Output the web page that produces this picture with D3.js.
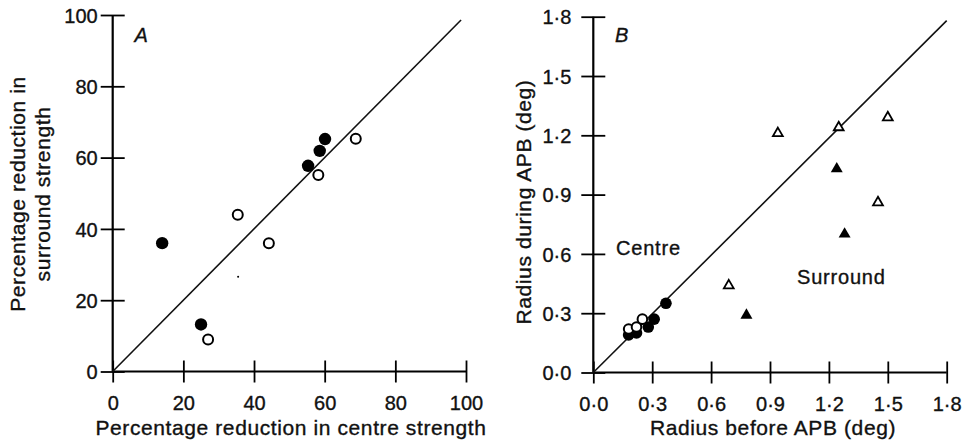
<!DOCTYPE html>
<html>
<head>
<meta charset="utf-8">
<script src="https://cdn.jsdelivr.net/npm/d3@7/dist/d3.min.js"></script>
<style>
  body { margin: 0; background: #fff; }
  svg { display: block; font-family: "Liberation Sans", Arial, Helvetica, sans-serif; }
</style>
</head>
<body>
<svg id="chart" width="969" height="443"></svg>
<script>
// ---------- DATA ----------
// Panel A: percentage reduction (centre, surround)
const aFilledX = [14, 25, 55.3, 58.6, 60.1];
const aFilledY = [36, 13.2, 57.7, 61.9, 65.2];
const aOpenX = [27, 35.4, 44.2, 58.2, 68.8];
const aOpenY = [9, 44, 36, 55.1, 65.3];
const aStrayX = [35.5];
const aStrayY = [26.6];
const aTicks = [0, 20, 40, 60, 80, 100];

// Panel B: radius before / during APB (deg)
const bCentreFilledX = [0.18, 0.22, 0.28, 0.31, 0.37];
const bCentreFilledY = [0.19, 0.20, 0.23, 0.27, 0.35];
const bCentreOpenX = [0.18, 0.22, 0.25];
const bCentreOpenY = [0.22, 0.23, 0.27];
const bSurrOpenX = [0.69, 0.94, 1.25, 1.45, 1.50];
const bSurrOpenY = [0.44, 1.21, 1.24, 0.86, 1.29];
const bSurrFilledX = [0.78, 1.24, 1.28];
const bSurrFilledY = [0.29, 1.03, 0.70];
const bTicks = [0, 0.3, 0.6, 0.9, 1.2, 1.5, 1.8];

const titles = {
  aX: "Percentage reduction in centre strength",
  aY1: "Percentage reduction in",
  aY2: "surround strength",
  bX: "Radius before APB (deg)",
  bY: "Radius during APB (deg)"
};

// ---------- DRAW ----------
const svg = d3.select("#chart");
const zip = (xs, ys) => xs.map((x, i) => [x, ys[i]]);

const xA = d3.scaleLinear().domain([0, 100]).range([112.7, 466]);
const yA = d3.scaleLinear().domain([0, 100]).range([371.5, 15]);
const xB = d3.scaleLinear().domain([0, 1.8]).range([593.3, 946.7]);
const yB = d3.scaleLinear().domain([0, 1.8]).range([372.5, 16.7]);

function styleText(sel, size) {
  sel.attr("font-size", size).attr("fill", "#111").attr("stroke", "#111")
    .attr("stroke-width", 0.35).attr("font-family", "Liberation Sans, Arial, sans-serif");
}

function drawAxes(x, y, ticks, fmt, yLabelGap) {
  const y0 = y(0), x0 = x(0);
  const gx = svg.append("g").attr("transform", `translate(0,${y0})`)
    .call(d3.axisBottom(x).tickValues(ticks).tickFormat(fmt).tickSize(12).tickPadding(0));
  gx.select(".domain").attr("stroke-width", 2.2).attr("d", `M${x.range()[0]},0H${x.range()[1]}`);
  gx.selectAll(".tick line").attr("y1", -11).attr("y2", 11).attr("stroke-width", 1.8);
  styleText(gx.selectAll(".tick text").attr("y", 38).attr("dy", null), 20);

  const gy = svg.append("g").attr("transform", `translate(${x0},0)`)
    .call(d3.axisLeft(y).tickValues(ticks).tickFormat(fmt).tickSize(12).tickPadding(0));
  gy.select(".domain").attr("stroke-width", 2.2).attr("d", `M0,${y.range()[0]}V${y.range()[1]}`);
  gy.selectAll(".tick line").attr("x1", -12).attr("x2", 12).attr("stroke-width", 1.8);
  styleText(gy.selectAll(".tick text").attr("x", -12 - yLabelGap).attr("dy", "0.36em"), 20);
}

drawAxes(xA, yA, aTicks, d3.format("d"), 3);
drawAxes(xB, yB, bTicks, d => d3.format(".1f")(d).replace(".", "\u00B7"), 10);

// diagonal lines
svg.append("line").attr("x1", xA(0)).attr("y1", yA(0)).attr("x2", xA(98.6)).attr("y2", yA(98.6))
  .attr("stroke", "#111").attr("stroke-width", 1.6);
svg.append("line").attr("x1", xB(0)).attr("y1", yB(0)).attr("x2", xB(1.8)).attr("y2", yB(1.78))
  .attr("stroke", "#111").attr("stroke-width", 1.6);

// Panel A points
svg.append("g").selectAll("circle").data(zip(aOpenX, aOpenY)).join("circle")
  .attr("cx", d => xA(d[0])).attr("cy", d => yA(d[1])).attr("r", 5)
  .attr("fill", "#fff").attr("stroke", "#000").attr("stroke-width", 2);
svg.append("g").selectAll("circle").data(zip(aFilledX, aFilledY)).join("circle")
  .attr("cx", d => xA(d[0])).attr("cy", d => yA(d[1])).attr("r", 6.2).attr("fill", "#000");
svg.append("g").selectAll("circle").data(zip(aStrayX, aStrayY)).join("circle")
  .attr("cx", d => xA(d[0])).attr("cy", d => yA(d[1])).attr("r", 1).attr("fill", "#000");

// Panel B points
svg.append("g").selectAll("circle").data(zip(bCentreFilledX, bCentreFilledY)).join("circle")
  .attr("cx", d => xB(d[0])).attr("cy", d => yB(d[1])).attr("r", 5.8).attr("fill", "#000");
svg.append("g").selectAll("circle").data(zip(bCentreOpenX, bCentreOpenY)).join("circle")
  .attr("cx", d => xB(d[0])).attr("cy", d => yB(d[1])).attr("r", 4.8)
  .attr("fill", "#fff").attr("stroke", "#000").attr("stroke-width", 2);

const tri = d3.symbol().type(d3.symbolTriangle);
svg.append("g").selectAll("path").data(zip(bSurrOpenX, bSurrOpenY)).join("path")
  .attr("d", tri.size(42)).attr("transform", d => `translate(${xB(d[0])},${yB(d[1])})`)
  .attr("fill", "#fff").attr("stroke", "#000").attr("stroke-width", 1.8);
svg.append("g").selectAll("path").data(zip(bSurrFilledX, bSurrFilledY)).join("path")
  .attr("d", tri.size(62)).attr("transform", d => `translate(${xB(d[0])},${yB(d[1])})`)
  .attr("fill", "#000");

// Text
function txt(x, y, s, size, opts = {}) {
  const t = svg.append("text").attr("x", x).attr("y", y).text(s)
    .attr("text-anchor", opts.anchor || "start");
  styleText(t, size);
  if (opts.ls) t.attr("letter-spacing", opts.ls);
  if (opts.italic) t.attr("font-style", "italic");
  if (opts.rotate) t.attr("transform", `rotate(-90,${x},${y})`);
  return t;
}
txt(134.5, 41.7, "A", 20, { italic: true });
txt(615, 41.7, "B", 20, { italic: true });

txt(291, 435, titles.aX, 21, { anchor: "middle", ls: 0.6 });
txt(773, 435, titles.bX, 21, { anchor: "middle", ls: 0.6 });

txt(25, 194, titles.aY1, 21, { anchor: "middle", ls: 0.6, rotate: true });
txt(50, 194, titles.aY2, 21, { anchor: "middle", ls: 0.6, rotate: true });
txt(531, 202, titles.bY, 21, { anchor: "middle", ls: 0.6, rotate: true });

txt(616, 255, "Centre", 20, { ls: 0.8 });
txt(797, 284, "Surround", 20, { ls: 0.8 });
</script>
</body>
</html>
